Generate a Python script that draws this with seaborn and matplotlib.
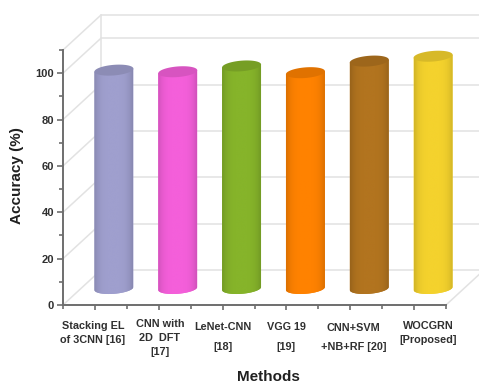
import numpy as np
import pandas as pd
import matplotlib
matplotlib.use("Agg")
import matplotlib.pyplot as plt
from matplotlib.colors import to_rgb
from matplotlib.transforms import ScaledTranslation
import seaborn as sns

methods = ["Stacking EL\nof 3CNN [16]", "CNN with\n2D  DFT\n[17]", "LeNet-CNN\n[18]",
           "VGG 19\n[19]", "CNN+SVM\n+NB+RF [20]", "WOCGRN\n[Proposed]"]
accuracy = [94.2, 93.5, 96.0, 93.1, 98.1, 100.2]
colors = ["#9F9FCE", "#F45FDA", "#86B42A", "#FF8200", "#B2741F", "#F4D22D"]
label_spacing = [1.5, 1.5, 2.2, 2.2, 2.1, 1.5]
label_shift_x = [-2, 1, 0, 0, 3, 14]
label_shift_y = [0, 2, -1, -1, -2, 0]

W, H = 479, 383
FRONT = (63, 305, 383, 255)      # left, bottom (from top), width, height of the front plane
BAR_DEPTH = (19, 16.5)
BACK_DEPTH = (38, 35)
YMAX = 110
GRID = "#E2E2E2"
AXIS = "#6E6E6E"
TEXT = "#303030"

sns.set_theme(style="white")
plt.rcParams["font.family"] = ["Liberation Sans", "DejaVu Sans"]
fig = plt.figure(figsize=(W / 100, H / 100), dpi=100, facecolor="white")


def plane(dx, dy, **kw):
    l, b, w, h = FRONT
    return fig.add_axes([(l + dx) / W, (H - b + dy) / H, w / W, h / H], **kw)


# Back wall with its horizontal grid, running off the right edge of the figure
back = plane(*BACK_DEPTH, facecolor="none")
back.set_xlim(-0.5, 5.5)
back.set_ylim(0, YMAX)
back.set_xticks([])
back.set_yticks([])
for v in list(np.arange(0, 101, 20)) + [YMAX]:
    back.plot([-0.5, 6.0], [v, v], color=GRID, lw=1.1, clip_on=False)
back.plot([-0.5, -0.5], [0, YMAX], color=GRID, lw=1.1, clip_on=False)
for s in back.spines.values():
    s.set_visible(False)

# Front plane: carries the axis lines, ticks and labels
ax = plane(0, 0, facecolor="none")
ax.set_xlim(-0.5, 5.5)
ax.set_ylim(0, YMAX)
sns.despine(ax=ax)
for name in ("left", "bottom"):
    ax.spines[name].set_color(AXIS)
    ax.spines[name].set_linewidth(1.4)
ax.set_yticks(np.arange(0, 101, 20))
ax.set_yticks(np.arange(10, 111, 20), minor=True)
ax.set_xticks(range(len(methods)))
ax.set_xticks(np.arange(-0.5, 5.6, 1), minor=True)
ax.set_xticklabels(methods)
ax.tick_params(axis="both", which="both", left=True, bottom=True, color=AXIS, width=1.2)
ax.tick_params(axis="y", which="major", length=4.3, labelsize=8, labelcolor=TEXT, pad=2)
ax.tick_params(axis="y", which="minor", length=2.8)
ax.tick_params(axis="x", which="major", length=3.6, labelsize=7.8, labelcolor=TEXT, pad=8)
ax.tick_params(axis="x", which="minor", length=2.6)
for lab in ax.get_yticklabels():
    lab.set_fontweight("bold")
for lab, sp, sx, sy in zip(ax.get_xticklabels(), label_spacing, label_shift_x, label_shift_y):
    lab.set_fontweight("bold")
    lab.set_linespacing(sp)
    lab.set_transform(lab.get_transform() + ScaledTranslation(sx / 100, sy / 100, fig.dpi_scale_trans))

# Side wall and floor edges joining the front plane to the back wall
dx_cat = BACK_DEPTH[0] / (FRONT[2] / 6)
dy_val = BACK_DEPTH[1] / (FRONT[3] / YMAX)
for v in list(np.arange(0, 101, 20)) + [YMAX]:
    ax.plot([-0.5, -0.5 + dx_cat], [v, v + dy_val], color=GRID, lw=1.1, clip_on=False, zorder=0)
ax.plot([5.5, 5.5 + dx_cat], [0, dy_val], color=GRID, lw=1.1, clip_on=False, zorder=0)

ax.set_ylabel("Accuracy (%)", fontsize=11, fontweight="bold", color="#202020", va="center")
ax.yaxis.set_label_coords((17 - 63) / FRONT[2], (305 - 176) / FRONT[3])
fig.text(268 / W, 1 - 377 / H, "Methods", fontsize=11, fontweight="bold", color="#202020",
         ha="center", va="center")

# Cylinders stand on a plane halfway into the floor
bars = plane(*BAR_DEPTH, facecolor="none")
frame = pd.DataFrame({"method": methods, "accuracy": accuracy})
sns.barplot(data=frame, x="method", y="accuracy", hue="method", palette=colors, legend=False,
            width=0.61, ax=bars, saturation=1, linewidth=0)
bars.set_xlim(-0.5, 5.5)
bars.set_ylim(0, YMAX)
bars.axis("off")

rim_b = 5.3 / (FRONT[3] / YMAX)    # vertical half-axis of the ellipses, in value units
rim_s = 1.5 / (FRONT[3] / YMAX)    # tilt of the ellipses, in value units
t = np.linspace(0, 2 * np.pi, 121)
profile = np.array([0.86, 0.93, 0.97, 0.99, 1.0, 1.0, 1.0, 1.0, 1.0, 0.99, 0.97, 0.93, 0.86])
for patch, col, val in zip(list(bars.patches), colors, accuracy):
    x0, w = patch.get_x(), patch.get_width()
    xc, a = x0 + w / 2, w / 2
    patch.set_visible(False)
    lower = t[t >= np.pi]
    # Body outline: lower rim, straight sides, closed at the top rim
    ox = np.r_[xc + a * np.cos(lower), xc + a, xc - a]
    oy = np.r_[rim_b * np.sin(lower) + rim_s * np.cos(lower), val + rim_s, val - rim_s]
    outline, = bars.fill(ox, oy, color=col, lw=0, clip_on=False, zorder=2)
    rgb = np.array(to_rgb(col))
    shade = np.interp(np.linspace(0, 1, 80), np.linspace(0, 1, len(profile)), profile)
    strip = np.clip(rgb[None, None, :] * shade[None, :, None], 0, 1)
    im = bars.imshow(strip, extent=(x0, x0 + w, -2 * rim_b, val + 2 * rim_b), aspect="auto",
                     zorder=2.5, interpolation="bilinear")
    im.set_clip_path(outline)
    im.set_clip_box(fig.bbox)
    # Darker top face
    bars.fill(xc + a * np.cos(t), val + rim_b * np.sin(t) + rim_s * np.cos(t),
              color=tuple(rgb * 0.88), lw=0, zorder=3, clip_on=False)
bars.set_xlim(-0.5, 5.5)
bars.set_ylim(0, YMAX)

fig.savefig("out.png", dpi=100, facecolor="white")
